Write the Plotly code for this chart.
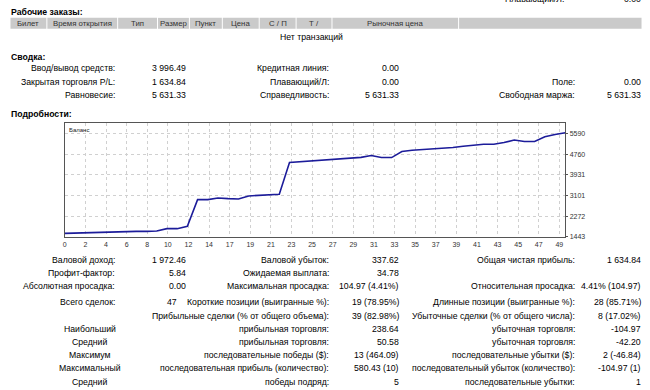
import plotly.graph_objects as go

W, H = 650, 390
FONT = "Liberation Sans"
FS = 8.7

# ---------------- data ----------------
balance = [1576, 1588, 1605, 1620, 1645, 1657, 1670, 1657, 1657, 1670,
           1766, 1766, 1859, 2938, 2938, 3002, 2977, 2963, 3085, 3112,
           3139, 3152, 4431, 4458, 4485, 4512, 4540, 4580, 4610, 4640,
           4715, 4633, 4633, 4876, 4930, 4957, 4983, 4997, 5037, 5091,
           5131, 5172, 5172, 5239, 5340, 5280, 5280, 5470, 5560, 5631]
trade_index = list(range(len(balance)))

x_tick_labels = ["0", "2", "4", "6", "8", "10", "12", "14", "17", "19", "21", "23",
                 "25", "27", "29", "31", "33", "35", "37", "39", "41", "43", "45", "47", "49"]
y_tick_values = [1443, 2272, 3101, 3931, 4760, 5590]

order_columns = ["Билет", "Время открытия", "Тип", "Размер", "Пункт", "Цена",
                 "С / П", "Т /", "Рыночная цена"]
no_orders_text = "Нет транзакций"

summary_rows = [
    [("Ввод/вывод средств:", "3 996.49"), ("Кредитная линия:", "0.00"), None],
    [("Закрытая торговля P/L:", "1 634.84"), ("Плавающий/Л:", "0.00"), ("Поле:", "0.00")],
    [("Равновесие:", "5 631.33"), ("Справедливость:", "5 631.33"), ("Свободная маржа:", "5 631.33")],
]
stats_rows = [
    [("Валовой доход:", "1 972.46"), ("Валовой убыток:", "337.62"), ("Общая чистая прибыль:", "1 634.84")],
    [("Профит-фактор:", "5.84"), ("Ожидаемая выплата:", "34.78"), None],
    [("Абсолютная просадка:", "0.00"), ("Максимальная просадка:", "104.97 (4.41%)"),
     ("Относительная просадка:", "4.41% (104.97)")],
]
trade_heads = ["Наибольший", "Средний", "Максимум", "Максимальный", "Средний"]
trade_rows = [
    [("Прибыльные сделки (% от общего объема):", "39 (82.98%)"), ("Убыточные сделки (% от общего числа):", "8 (17.02%)")],
    [("прибыльная торговля:", "238.64"), ("убыточная торговля:", "-104.97")],
    [("прибыльная торговля:", "50.58"), ("убыточная торговля:", "-42.20")],
    [("последовательные победы ($):", "13 (464.09)"), ("последовательные убытки ($):", "2 (-46.84)")],
    [("последовательная прибыль (количество):", "580.43 (10)"), ("последовательный убыток (количество):", "-104.97 (1)")],
    [("победы подряд:", "5"), ("последовательные убытки:", "1")],
]
total_trades = ("Всего сделок:", "47")
short_pos = ("Короткие позиции (выигранные %):", "19 (78.95%)")
long_pos = ("Длинные позиции (выигранные %):", "28 (85.71%)")

# ---------------- layout helpers ----------------
annotations = []
shapes = []


def txt(s, x, y, anchor="right", size=FS, bold=False, color="#000000"):
    annotations.append(dict(
        text=f"<b>{s}</b>" if bold else s, x=x / W, y=1 - y / H,
        xref="paper", yref="paper", xanchor=anchor, yanchor="middle",
        showarrow=False, font=dict(size=size, color=color, family=FONT)))


def rect(x0, y0, x1, y1, color):
    shapes.append(dict(type="rect", xref="paper", yref="paper",
                       x0=x0 / W, x1=x1 / W, y0=1 - y1 / H, y1=1 - y0 / H,
                       line=dict(width=0), fillcolor=color, layer="below"))


# cut-off text at the very top
txt("Плавающий/Л:", 566, -1)
txt("0.00", 643, -1)

# Working orders
txt("Рабочие заказы:", 7, 12, anchor="left", bold=True)
sep = [8, 45, 116, 156, 188, 221, 258, 295, 331, 458, 642]
for a, b in zip(sep[:-1], sep[1:]):
    rect(a + 0.5, 18, b - 0.5, 29, "#cacaca")
for i, c in enumerate(order_columns):
    txt(c, (sep[i] + sep[i + 1]) / 2, 23.5, anchor="center", size=7.8, color="#333333")
txt(no_orders_text, 310, 37, anchor="center")

# Summary
txt("Сводка:", 7, 57, anchor="left", bold=True)
col_lbl = [115, 330, 577]
col_val = [187, 400, 643]
for r, row in enumerate(summary_rows):
    y = 69 + r * 13.3
    for c, cell in enumerate(row):
        if cell:
            txt(cell[0], col_lbl[c], y)
            txt(cell[1], col_val[c], y)

txt("Подробности:", 7, 115, anchor="left", bold=True)

# Stats
for r, row in enumerate(stats_rows):
    y = 262 + r * 13.2
    for c, cell in enumerate(row):
        if cell:
            txt(cell[0], col_lbl[c], y)
            txt(cell[1], col_val[c], y)

y0 = 304.5
txt(total_trades[0], col_lbl[0], y0)
txt(total_trades[1], 178, y0)
txt(short_pos[0], col_lbl[1], y0)
txt(short_pos[1], col_val[1], y0)
txt(long_pos[0], col_lbl[2], y0)
txt(long_pos[1], col_val[2], y0)
for r, row in enumerate(trade_rows):
    y = 318 + r * 13.3
    if r >= 1:
        txt(trade_heads[r - 1], 88, y, anchor="center")
    for c, cell in enumerate(row):
        txt(cell[0], col_lbl[c + 1], y)
        txt(cell[1], col_val[c + 1], y)

# chart label
txt("Баланс", 65, 131, anchor="left", size=6, color="#222222")

# ---------------- figure ----------------
fig = go.Figure()
fig.add_trace(go.Scatter(x=trade_index, y=balance, mode="lines",
                         line=dict(color="#1c1c9a", width=1.6), hoverinfo="skip"))

grid_step = 2.0176
fig.update_layout(
    width=W, height=H, margin=dict(l=0, r=0, t=0, b=0),
    paper_bgcolor="white", plot_bgcolor="white", showlegend=False,
    annotations=annotations, shapes=shapes,
    xaxis=dict(domain=[63 / W, 565 / W], range=[0, 49], showline=True, mirror=True,
               linecolor="#555555", linewidth=1, showgrid=True, gridcolor="#d0d0d0",
               griddash="dot", gridwidth=1, zeroline=False,
               tickmode="array", tickvals=[k * grid_step for k in range(25)],
               ticktext=x_tick_labels, tickfont=dict(size=7, color="#333333", family=FONT),
               ticks="", ticklabelstandoff=1),
    yaxis=dict(domain=[1 - 238.5 / H, 1 - 124 / H], range=[1443, 6025], side="right",
               showline=True, mirror=True, linecolor="#555555", linewidth=1,
               showgrid=True, gridcolor="#d0d0d0", griddash="dot", gridwidth=1,
               zeroline=False, tickmode="array", tickvals=y_tick_values,
               ticktext=[str(v) for v in y_tick_values],
               tickfont=dict(size=7, color="#333333", family=FONT),
               ticks="outside", ticklen=2, tickcolor="#555555"),
)
fig.write_html("out.html", config={"displayModeBar": False},
               post_script="document.body.style.margin='0';")
